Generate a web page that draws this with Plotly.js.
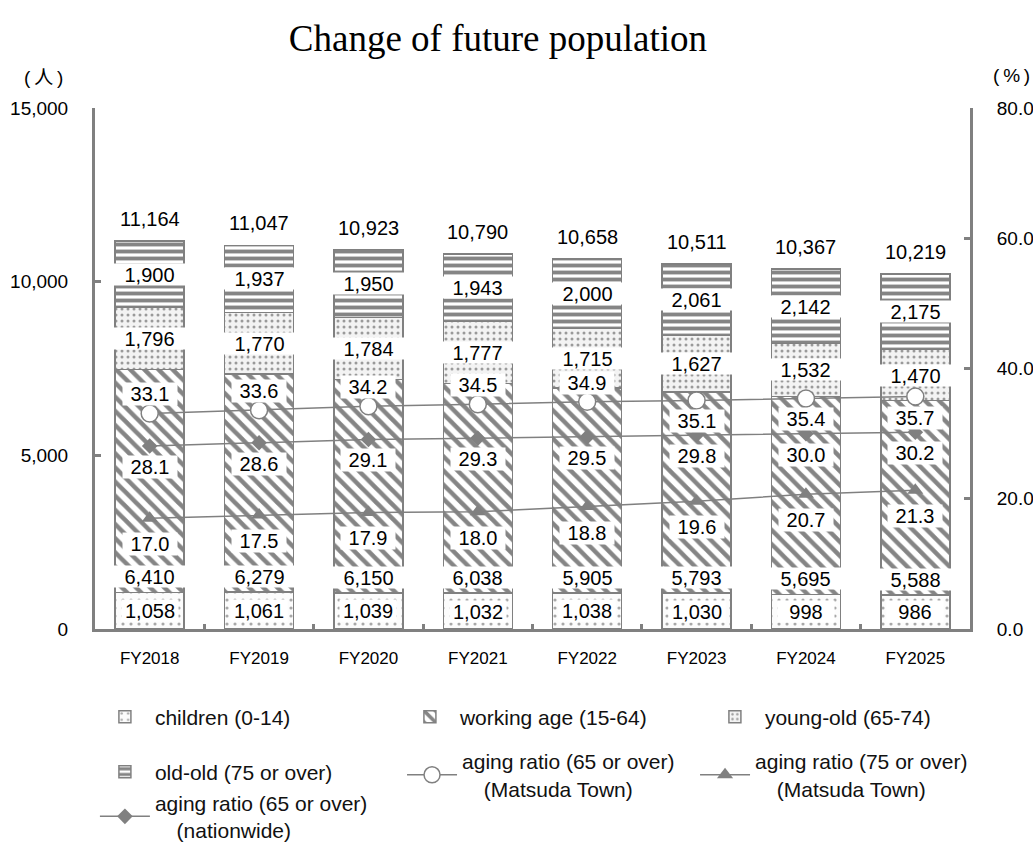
<!DOCTYPE html>
<html><head><meta charset="utf-8">
<script src="https://cdn.plot.ly/plotly-3.0.1.min.js"></script>
<style>html,body{margin:0;padding:0;background:#fff}</style>
</head><body>
<div id="chart" style="width:1033px;height:843px"></div>
<script>
// ---- data ----
const years = ['FY2018','FY2019','FY2020','FY2021','FY2022','FY2023','FY2024','FY2025'];
const children = [1058, 1061, 1039, 1032, 1038, 1030, 998, 986];
const working  = [6410, 6279, 6150, 6038, 5905, 5793, 5695, 5588];
const youngOld = [1796, 1770, 1784, 1777, 1715, 1627, 1532, 1470];
const oldOld   = [1900, 1937, 1950, 1943, 2000, 2061, 2142, 2175];
const totals   = [11164, 11047, 10923, 10790, 10658, 10511, 10367, 10219];
const ratio65Town   = [33.1, 33.6, 34.2, 34.5, 34.9, 35.1, 35.4, 35.7];
const ratio65Nation = [28.1, 28.6, 29.1, 29.3, 29.5, 29.8, 30.0, 30.2];
const ratio75Town   = [17.0, 17.5, 17.9, 18.0, 18.8, 19.6, 20.7, 21.3];
const leftTicks = [0, 5000, 10000, 15000];
const rightTicks = [0, 20, 40, 60, 80];

// ---- styles ----
const FONT = 'Liberation Sans, Arial, sans-serif';
const GREY = '#808080';
const IND = '\u00a0\u00a0\u00a0\u2009';

const barLine = {color: GREY, width: 1.5};
const traces = [
  {type:'bar', x: years, y: children, name:'children (0-14)', legend:'legend',
   marker:{color:'#fff', line: barLine, pattern:{shape:'.', fgcolor:'#a8a8a8', bgcolor:'#fcfcfc', size:8, solidity:0.12}},
   hoverinfo:'skip'},
  {type:'bar', x: years, y: working, name:'working age (15-64)', legend:'legend',
   marker:{color:'#fff', line: barLine, pattern:{shape:'\\', fgcolor:'#858585', bgcolor:'#ffffff', size:10, solidity:0.45}},
   hoverinfo:'skip'},
  {type:'bar', x: years, y: youngOld, name:'young-old (65-74)', legend:'legend',
   marker:{color:'#fff', line: barLine, pattern:{shape:'.', fgcolor:'#9a9a9a', bgcolor:'#f3f3f3', size:6, solidity:0.2}},
   hoverinfo:'skip'},
  {type:'bar', x: years, y: oldOld, name:'old-old (75 or over)', legend:'legend2',
   marker:{color:'#fff', line: barLine, pattern:{shape:'-', fgcolor:'#858585', bgcolor:'#ffffff', size:7, solidity:0.55}},
   hoverinfo:'skip'},
  {type:'scatter', mode:'lines+markers', x: years, y: ratio65Town, yaxis:'y2', legend:'legend4',
   name:'aging ratio (65 or over)<br>' + IND + '(Matsuda Town)',
   line:{color: GREY, width: 1.5},
   marker:{symbol:'circle', size:17, color:'#fff', line:{color: GREY, width:1.5}}, hoverinfo:'skip'},
  {type:'scatter', mode:'lines+markers', x: years, y: ratio75Town, yaxis:'y2', legend:'legend4',
   name:'aging ratio (75 or over)<br>' + IND + '(Matsuda Town)',
   line:{color: GREY, width: 1.5},
   marker:{symbol:'triangle-up', size:14, color: GREY}, hoverinfo:'skip'},
  {type:'scatter', mode:'lines+markers', x: years, y: ratio65Nation, yaxis:'y2', legend:'legend3',
   name:'aging ratio (65 or over)<br>' + IND + '(nationwide)',
   line:{color: GREY, width: 1.5},
   marker:{symbol:'diamond', size:12, color: GREY}, hoverinfo:'skip'}
];

// ---- labels ----
const fmt = v => v.toLocaleString('en-US');
const labFont = {family: FONT, size: 20, color: '#000'};
const ann = [];
function lab(x, y, text, opts) {
  ann.push(Object.assign({x, y, text, xref:'x', yref:'y', showarrow:false,
    xanchor:'center', yanchor:'middle', font: labFont, borderpad:0}, opts));
}
years.forEach((yr, i) => {
  const b1 = children[i];
  const b2 = b1 + working[i];
  const b3 = b2 + youngOld[i];
  const top = b3 + oldOld[i];
  lab(yr, top, fmt(totals[i]), {yanchor:'bottom', yshift: 10});
  lab(yr, b3 + oldOld[i] / 2, fmt(oldOld[i]), {bgcolor:'#fff', width: 73, height: 21});
  lab(yr, b2 + youngOld[i] / 2, fmt(youngOld[i]), {bgcolor:'#fff', width: 73, height: 21});
  lab(yr, b1, fmt(working[i]), {bgcolor:'#fff', width: 73, height: 21, yanchor:'bottom', yshift: 4});
  lab(yr, b1 / 2, fmt(children[i]), {bgcolor:'#fff', width: 56, height: 21});
  lab(yr, ratio65Town[i], ratio65Town[i].toFixed(1), {yref:'y2', bgcolor:'#fff', width: 54, height: 22, yshift: i < 5 ? 19 : -21});
  lab(yr, ratio65Nation[i], ratio65Nation[i].toFixed(1), {yref:'y2', bgcolor:'#fff', width: 54, height: 22, yshift: -21});
  lab(yr, ratio75Town[i], ratio75Town[i].toFixed(1), {yref:'y2', bgcolor:'#fff', width: 54, height: 22, yshift: -26});
});
const unitFont = {family:'Liberation Sans, Noto Sans CJK JP, sans-serif', size:19, color:'#000'};
ann.push({xref:'paper', yref:'paper', x:-0.0594, y:1.0576, xanchor:'center', yanchor:'middle',
  text:'(\u2009人\u2009)', showarrow:false, font: unitFont});
ann.push({xref:'paper', yref:'paper', x:1.0469, y:1.0633, xanchor:'center', yanchor:'middle',
  text:'(\u2009%\u2009)', showarrow:false, font: unitFont});

const legFont = {family: FONT, size: 21, color: '#111'};
const legBase = {orientation:'h', xref:'paper', yref:'paper', xanchor:'left', yanchor:'middle', x: -0.0001,
  font: legFont, traceorder:'normal', entrywidth: 240, bgcolor:'rgba(0,0,0,0)', itemwidth: 50, valign:'middle'};

const layout = {
  width: 1033, height: 843,
  paper_bgcolor:'#fff', plot_bgcolor:'#fff',
  font:{family: FONT, color:'#000'},
  margin:{l:95, r:63, t:108, b:214, pad:0, autoexpand:false},
  title:{text:'Change of future population', font:{family:'Liberation Serif, Times New Roman, serif', size:37, color:'#000'},
    x:0.482, xanchor:'center', y:0.955, yanchor:'middle'},
  barmode:'stack', bargap:0.37,
  showlegend:true,
  xaxis:{type:'category', showline:true, linecolor:GREY, linewidth:3, showgrid:false, zeroline:false,
    ticks:'inside', tickson:'boundaries', ticklen:5, tickwidth:3, tickcolor:GREY,
    tickfont:{family: FONT, size:17, color:'#000'}, ticklabelstandoff: 12},
  yaxis:{range:[0,15000], tickvals: leftTicks, ticktext: leftTicks.map(fmt), showline:true, linecolor:GREY, linewidth:3,
    showgrid:false, zeroline:false, ticks:'inside', ticklen:6, tickwidth:3, tickcolor:GREY,
    tickfont:{family: FONT, size:19, color:'#000'}, ticklabelstandoff: 20},
  yaxis2:{overlaying:'y', side:'right', range:[0,80], tickvals: rightTicks, ticktext: rightTicks.map(v => v.toFixed(1)),
    showline:true, linecolor:GREY, linewidth:3, showgrid:false, zeroline:false, ticks:'inside', ticklen:6, tickwidth:3,
    tickcolor:GREY, tickfont:{family: FONT, size:19, color:'#000'}, ticklabelstandoff: 20},
  legend: Object.assign({}, legBase, {y:-0.1689}),
  legend2: Object.assign({}, legBase, {y:-0.2745}),
  legend4: Object.assign({}, legBase, {x:0.3509, y:-0.2802, entrywidth: 228}),
  legend3: Object.assign({}, legBase, {y:-0.3600}),
  annotations: ann
};

Plotly.newPlot('chart', traces, layout, {staticPlot:true, displayModeBar:false});
</script>
</body></html>
